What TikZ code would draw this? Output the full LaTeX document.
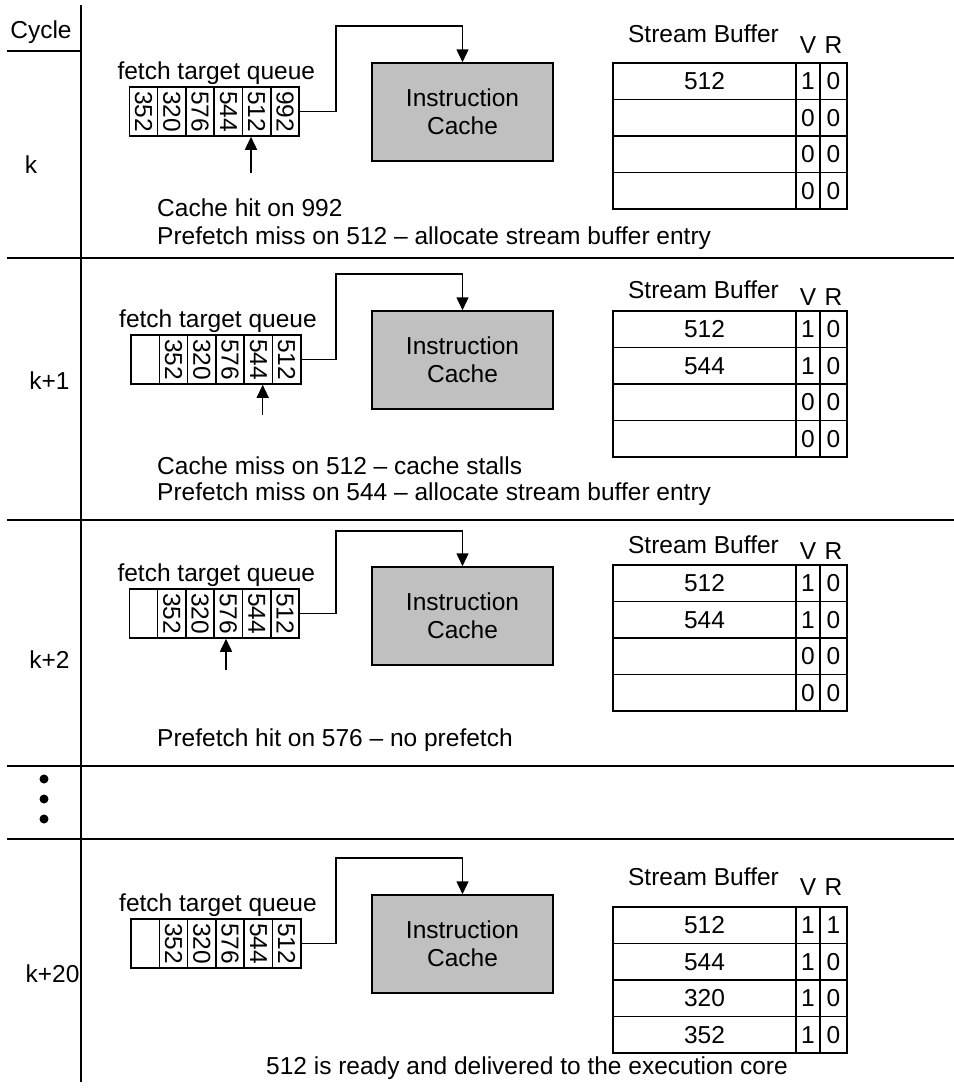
\documentclass[tikz,border=0pt]{standalone}
\usepackage{fontspec}
\setmainfont{Liberation Sans}
\usetikzlibrary{arrows.meta,calc}
\definecolor{cachegray}{RGB}{192,192,192}
\newcommand{\ftqpanel}[6]{%
  \node (#1lbl) at ({#2+87}, {#3-14}) {fetch target queue};
  \foreach \v [count=\i] in {#4} {
    \node[qcell] (#1q\i) at ({#2+(\i-0.5)*28.3}, {#3+24.5}) {\rotatebox{-90}{\v}};
  }
  \node[cachebox] (#1c) at (462.5, {#6+49}) {Instruction\\Cache};
  \coordinate (#1t) at (336, #5);
  \draw[arr] (#1q6.east) -| (#1t) -| (#1c.north);
}
\newcommand{\sbuf}[5]{%
  \node (#1sbt) at (703.5, #3) {Stream Buffer};
  \node (#1V) at (808, #4) {V};
  \node (#1R) at (833.5, #4) {R};
  \foreach \a/\b/\c [count=\i] in {#5} {
    \node[sbv] (#1s\i) at (704.5, {#2+(\i-0.5)*36.5}) {\a};
    \node[sbbit] (#1v\i) at (808, {#2+(\i-0.5)*36.5}) {\b};
    \node[sbr] (#1r\i) at (833.5, {#2+(\i-0.5)*36.5}) {\c};
  }
}
\begin{document}
\begin{tikzpicture}[x=1pt,y=-1pt,
  every node/.style={font=\fontsize{24.5}{28}\selectfont, inner sep=0pt},
  ln/.style={line width=1.5pt},
  qcell/.style={draw, ln, minimum width=28.3pt, minimum height=49pt},
  cachebox/.style={draw, ln, fill=cachegray, minimum width=181pt, minimum height=98pt, align=center},
  sbv/.style={draw, ln, minimum width=183pt, minimum height=36.5pt},
  sbbit/.style={draw, ln, minimum width=24pt, minimum height=36.5pt},
  sbr/.style={draw, ln, minimum width=27pt, minimum height=36.5pt},
  arr/.style={ln, -{Triangle[length=13pt,width=12pt]}},
  lbl/.style={anchor=west},
]
\useasboundingbox (0,0) rectangle (954,1088);

% frame lines
\draw[ln] (81,5) -- (81,1082);
\draw[ln] (7,51) -- (81,51);
\draw[ln] (7,258) -- (954,258);
\draw[ln] (7,520) -- (954,520);
\draw[ln] (7,766) -- (954,766);
\draw[ln] (7,839) -- (954,839);

% cycle labels
\node (cyc) at (41,32) {Cycle};
\node (rk) at (31,165) {k};
\node (rk1) at (49.5,381) {k+1};
\node (rk2) at (49.5,660) {k+2};
\node (rk20) at (52.5,974) {k+20};
\fill (44,779) circle (4.5);
\fill (44,799) circle (4.5);
\fill (44,819) circle (4.5);

% panel k
\ftqpanel{a}{129.3}{87}{352,320,576,544,512,992}{26}{63}
\sbuf{a}{63}{34}{45}{512/1/0,{}/0/0,{}/0/0,{}/0/0}
\coordinate (ap) at (251,173);
\draw[arr] (ap) -- (ap |- aq1.south);
\node[lbl] (at1) at (157,208) {Cache hit on 992};
\node[lbl] (at2) at (157,238) {Prefetch miss on 512 -- allocate stream buffer entry};

% panel k+1
\ftqpanel{b}{131}{335}{{},352,320,576,544,512}{274}{311}
\sbuf{b}{311}{290}{297}{512/1/0,544/1/0,{}/0/0,{}/0/0}
\coordinate (bp) at (262.7,415);
\draw[arr] (bp) -- (bp |- bq1.south);
\node[lbl] (bt1) at (157,466) {Cache miss on 512 -- cache stalls};
\node[lbl] (bt2) at (157,494) {Prefetch miss on 544 -- allocate stream buffer entry};

% panel k+2
\ftqpanel{c}{129.3}{589}{{},352,320,576,544,512}{531}{567}
\sbuf{c}{565}{545}{551}{512/1/0,544/1/0,{}/0/0,{}/0/0}
\coordinate (cp) at (226,670);
\draw[arr] (cp) -- (cp |- cq1.south);
\node[lbl] (ct1) at (157,740) {Prefetch hit on 576 -- no prefetch};

% panel k+20
\ftqpanel{d}{131}{919}{{},352,320,576,544,512}{858}{895}
\sbuf{d}{907}{877}{887}{512/1/1,544/1/0,320/1/0,352/1/0}
\node (dt1) at (527,1068) {512 is ready and delivered to the execution core};
\end{tikzpicture}
\end{document}
